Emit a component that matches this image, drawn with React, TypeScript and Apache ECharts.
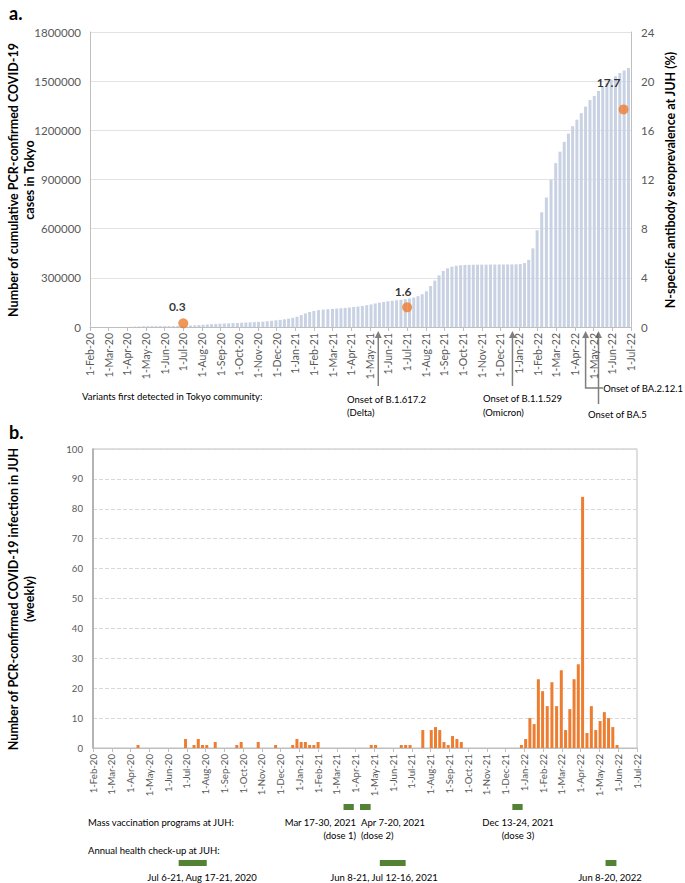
import React, { useEffect, useRef } from "react";
import * as echarts from "echarts";

const FONT = "Lato, 'Noto Sans', sans-serif";

const monthLabels = [
  "1-Feb-20", "1-Mar-20", "1-Apr-20", "1-May-20", "1-Jun-20", "1-Jul-20", "1-Aug-20", "1-Sep-20",
  "1-Oct-20", "1-Nov-20", "1-Dec-20", "1-Jan-21", "1-Feb-21", "1-Mar-21", "1-Apr-21", "1-May-21",
  "1-Jun-21", "1-Jul-21", "1-Aug-21", "1-Sep-21", "1-Oct-21", "1-Nov-21", "1-Dec-21", "1-Jan-22",
  "1-Feb-22", "1-Mar-22", "1-Apr-22", "1-May-22", "1-Jun-22", "1-Jul-22",
];

// weekly series start (Monday)
const weekStart = "2020-02-03";

// cumulative PCR-confirmed cases in Tokyo, one value per week from weekStart
const tokyoCumulative = [
  3, 5, 20, 30, 40, 70, 130, 210, 520, 1200,
  2300, 3300, 4100, 4600, 4900, 5100, 5200, 5300, 5450, 5700,
  6000, 6400, 7300, 8600, 10000, 11600, 13600, 15600, 17000, 18800,
  20200, 21400, 22500, 23700, 24900, 26200, 27400, 28600, 29800, 31000,
  32600, 35000, 38000, 40700, 43700, 47000, 51000, 56000, 63000, 73000,
  83000, 92000, 98000, 103000, 106000, 108500, 110500, 112500, 114500, 116500,
  119000, 122000, 125000, 128500, 133000, 138000, 143500, 148500, 153000, 157000,
  160000, 163000, 166000, 169500, 174000, 180000, 188000, 200000, 218000, 250000,
  283000, 315000, 342000, 358000, 368000, 374000, 377000, 378500, 379300, 379800,
  380200, 380500, 380700, 380900, 381100, 381300, 381500, 381700, 382000, 382500,
  384000, 390000, 410000, 480000, 590000, 700000, 790000, 900000, 1000000, 1070000,
  1130000, 1180000, 1225000, 1265000, 1305000, 1345000, 1385000, 1410000, 1440000, 1470000,
  1490000, 1510000, 1530000, 1550000, 1565000, 1580000,
];

// N-specific antibody seroprevalence at JUH (%)
const seroDates = ["2020-07-01", "2021-07-01", "2022-06-19"];
const seroValues = [0.3, 1.6, 17.7];

// weekly PCR-confirmed infections in JUH (week index from weekStart, count)
const juhWeek = [
  10, 21, 23, 24, 25, 26, 28, 33, 34, 38, 42, 46, 47, 48, 49, 50, 51, 52, 64, 65,
  71, 72, 73, 76, 78, 79, 80, 81, 82, 83, 84, 85,
  99, 100, 101, 102, 103, 104, 105, 106, 107, 108, 109, 110, 111, 112, 113, 114, 115, 116,
  117, 118, 119, 120, 121,
];
const juhCases = [
  1, 3, 1, 3, 1, 1, 2, 1, 2, 2, 1, 1, 3, 2, 2, 1, 1, 2, 1, 1,
  1, 1, 1, 6, 6, 7, 6, 2, 1, 4, 3, 2,
  1, 3, 10, 8, 23, 19, 14, 22, 14, 26, 6, 13, 23, 28, 84, 5, 14, 6,
  9, 12, 10, 7, 1,
];

// variants first detected in Tokyo community
const variantDates = ["2021-05-15", "2021-12-21", "2022-04-18", "2022-05-09"];

// green period bars (as drawn)
const vaccinationStart = ["2021-03-12", "2021-04-08", "2021-12-12"];
const vaccinationEnd = ["2021-03-29", "2021-04-25", "2021-12-29"];
const checkupStart = ["2020-06-18", "2021-05-10", "2022-05-11"];
const checkupEnd = ["2020-08-03", "2021-06-21", "2022-05-29"];

const GREEN = "#548235";
const ORANGE = "#ED7D31";
const BAR_BLUE = "#C9D2E3";
const TICK_GRAY = "#595959";

function addDays(iso: string, n: number): string {
  const d = new Date(iso + "T00:00:00Z");
  d.setUTCDate(d.getUTCDate() + n);
  return d.toISOString().slice(0, 10);
}

function monthPos(iso: string): number {
  const [y, m, d] = iso.split("-").map(Number);
  const idx = (y - 2020) * 12 + (m - 1) - 1;
  const dim = new Date(Date.UTC(y, m, 0)).getUTCDate();
  return idx + (d - 1) / dim;
}

function txt(x: number, y: number, text: string, opts: any = {}) {
  return {
    type: "text",
    x,
    y,
    rotation: opts.rotation || 0,
    silent: true,
    style: {
      text,
      fill: opts.color || "#000",
      font: opts.font || `9.5px ${FONT}`,
      align: opts.align || "left",
      verticalAlign: "middle",
      textAlign: opts.align || "left",
      textVerticalAlign: "middle",
      lineHeight: opts.lineHeight,
    },
  };
}

export default function App() {
  const ref = useRef<HTMLDivElement>(null);

  useEffect(() => {
    if (!ref.current) return;
    const chart = echarts.init(ref.current, undefined, { renderer: "svg" });

    const tokyoData = tokyoCumulative.map((v, i) => [monthPos(addDays(weekStart, 7 * i)), v]);
    const juhData = juhWeek.map((w, i) => [monthPos(addDays(weekStart, 7 * w)), juhCases[i]]);
    const labelOffsets = [
      [-6, 0],
      [-4, 1],
      [-15, -10],
    ];
    const seroData = seroDates.map((d, i) => ({
      value: [monthPos(d), seroValues[i]],
      label: { offset: labelOffsets[i] },
    }));
    const periodData = [
      ...vaccinationStart.map((s, i) => [monthPos(s), monthPos(vaccinationEnd[i]), 0]),
      ...checkupStart.map((s, i) => [monthPos(s), monthPos(checkupEnd[i]), 1]),
    ];

    const xAxisCommon = (gridIndex: number, fontSize: number) => ({
      gridIndex,
      type: "value",
      min: 0,
      max: 29,
      interval: 1,
      axisLine: { show: true, onZero: false, lineStyle: { color: "#bfbfbf", width: 1 } },
      axisTick: { show: true, length: 4, lineStyle: { color: "#bfbfbf" } },
      axisLabel: {
        rotate: 90,
        fontSize,
        color: TICK_GRAY,
        margin: 6,
        fontFamily: FONT,
        formatter: (v: number) => monthLabels[Math.round(v)] ?? "",
      },
      splitLine: { show: false },
    });

    const plain = (v: number) => String(v);

    const option: any = {
      animation: false,
      backgroundColor: "#ffffff",
      textStyle: { fontFamily: FONT },
      grid: [
        { left: 90, top: 32, width: 541, height: 295, show: false },
        {
          left: 93,
          top: 449,
          width: 544,
          height: 299,
          show: true,
          borderColor: "#bfbfbf",
          borderWidth: 1,
        },
      ],
      xAxis: [xAxisCommon(0, 10.5), xAxisCommon(1, 9.6)],
      yAxis: [
        {
          gridIndex: 0,
          type: "value",
          min: 0,
          max: 1800000,
          interval: 300000,
          axisLine: { show: true, lineStyle: { color: "#bfbfbf" } },
          axisTick: { show: false },
          axisLabel: { fontSize: 11.5, color: TICK_GRAY, margin: 9, fontFamily: FONT, formatter: plain },
          splitLine: { show: true, lineStyle: { color: "#e3e3e3", width: 1 } },
        },
        {
          gridIndex: 0,
          type: "value",
          position: "right",
          min: 0,
          max: 24,
          interval: 4,
          axisLine: { show: true, lineStyle: { color: "#bfbfbf" } },
          axisTick: { show: false },
          axisLabel: { fontSize: 11.5, color: TICK_GRAY, margin: 10, fontFamily: FONT, formatter: plain },
          splitLine: { show: false },
        },
        {
          gridIndex: 1,
          type: "value",
          min: 0,
          max: 100,
          interval: 10,
          axisLine: { show: true, lineStyle: { color: "#a6a6a6", width: 1.5 } },
          axisTick: { show: false },
          axisLabel: { fontSize: 9.6, color: TICK_GRAY, margin: 10, fontFamily: FONT, formatter: plain },
          splitLine: { show: true, lineStyle: { color: "#d9d9d9", type: [4, 2] } },
        },
      ],
      series: [
        {
          type: "bar",
          name: "Tokyo cumulative",
          xAxisIndex: 0,
          yAxisIndex: 0,
          data: tokyoData,
          barWidth: 3,
          itemStyle: { color: BAR_BLUE },
          silent: true,
        },
        {
          type: "scatter",
          name: "Seroprevalence",
          xAxisIndex: 0,
          yAxisIndex: 1,
          data: seroData,
          symbolSize: 10,
          itemStyle: { color: ORANGE },
          label: {
            show: true,
            position: "top",
            distance: 6,
            fontSize: 12,
            fontWeight: "bold",
            color: "#000",
            fontFamily: FONT,
            formatter: (p: any) => Number(p.value[1]).toFixed(1),
          },
          z: 5,
        },
        {
          type: "bar",
          name: "JUH weekly",
          xAxisIndex: 1,
          yAxisIndex: 2,
          data: juhData,
          barWidth: 3,
          itemStyle: { color: ORANGE },
          silent: true,
        },
        {
          type: "custom",
          name: "Periods",
          xAxisIndex: 1,
          yAxisIndex: 2,
          clip: false,
          silent: true,
          data: periodData,
          encode: { x: [0, 1], y: 2 },
          renderItem: (params: any, api: any) => {
            const x1 = api.coord([api.value(0), 0])[0];
            const x2 = api.coord([api.value(1), 0])[0];
            const row = api.value(2);
            const y = row === 0 ? 804 : 860;
            return {
              type: "rect",
              shape: { x: x1, y, width: x2 - x1, height: 6 },
              style: { fill: GREEN },
            };
          },
        },
      ],
    };

    chart.setOption(option);

    const px = (iso: string) => chart.convertToPixel({ xAxisIndex: 0 } as any, monthPos(iso)) as number;
    const ARROW = "#7f7f7f";
    const arrowHead = (x: number) => ({
      type: "polygon",
      silent: true,
      shape: { points: [[x, 331], [x - 3.5, 338], [x + 3.5, 338]] },
      style: { fill: ARROW },
    });
    const vline = (x: number, y2: number) => ({
      type: "line",
      silent: true,
      shape: { x1: x, y1: 337, x2: x, y2 },
      style: { stroke: ARROW, lineWidth: 1.5 },
    });
    const xd = px(variantDates[0]);
    const xo = px(variantDates[1]);
    const xb2 = px(variantDates[2]);
    const xb5 = px(variantDates[3]);

    const bold = (s: number) => `bold ${s}px ${FONT}`;

    const graphic: any[] = [
      txt(9, 13, "a.", { font: bold(18) }),
      txt(9, 432, "b.", { font: bold(18) }),
      txt(21, 180, "Number of cumulative PCR-confirmed COVID-19\ncases in Tokyo", {
        font: bold(12.5),
        align: "center",
        rotation: Math.PI / 2,
        lineHeight: 16,
      }),
      txt(670, 180, "N-specific antibody seroprevalence at JUH (%)", {
        font: bold(12.5),
        align: "center",
        rotation: Math.PI / 2,
      }),
      txt(21, 599, "Number of PCR-confirmed COVID-19 infection in JUH\n(weekly)", {
        font: bold(12.5),
        align: "center",
        rotation: Math.PI / 2,
        lineHeight: 16,
      }),
      txt(82, 396, "Variants first detected in Tokyo community:"),
      // Delta
      arrowHead(xd),
      vline(xd, 386),
      txt(347, 399, "Onset of B.1.617.2"),
      txt(347, 412, "(Delta)"),
      // Omicron
      arrowHead(xo),
      vline(xo, 386),
      txt(483, 398, "Onset of B.1.1.529"),
      txt(483, 412, "(Omicron)"),
      // BA.2.12.1
      arrowHead(xb2),
      {
        type: "polyline",
        silent: true,
        shape: { points: [[xb2, 337], [xb2, 388], [603, 388]] },
        style: { stroke: ARROW, lineWidth: 1.5, fill: "none" },
      },
      txt(683, 388, "Onset of BA.2.12.1", { align: "right" }),
      // BA.5
      arrowHead(xb5),
      vline(xb5, 404),
      txt(588, 414, "Onset of BA.5"),
      // bottom annotations
      txt(88, 822, "Mass vaccination programs at JUH:"),
      txt(356, 822, "Mar 17-30, 2021", { align: "right" }),
      txt(356, 835, "(dose 1)", { align: "right" }),
      txt(361, 822, "Apr 7-20, 2021"),
      txt(361, 835, "(dose 2)"),
      txt(518, 822, "Dec 13-24, 2021", { align: "center" }),
      txt(518, 835, "(dose 3)", { align: "center" }),
      txt(88, 850, "Annual health check-up at JUH:"),
      txt(202, 877, "Jul 6-21, Aug 17-21, 2020", { align: "center" }),
      txt(384, 877, "Jun 8-21, Jul 12-16, 2021", { align: "center" }),
      txt(610, 877, "Jun 8-20, 2022", { align: "center" }),
    ];

    chart.setOption({ graphic });

    return () => {
      chart.dispose();
    };
  }, []);

  return (
    <div
      ref={ref}
      style={{ position: "absolute", left: 0, top: 0, width: 685, height: 883, background: "#fff" }}
    />
  );
}
